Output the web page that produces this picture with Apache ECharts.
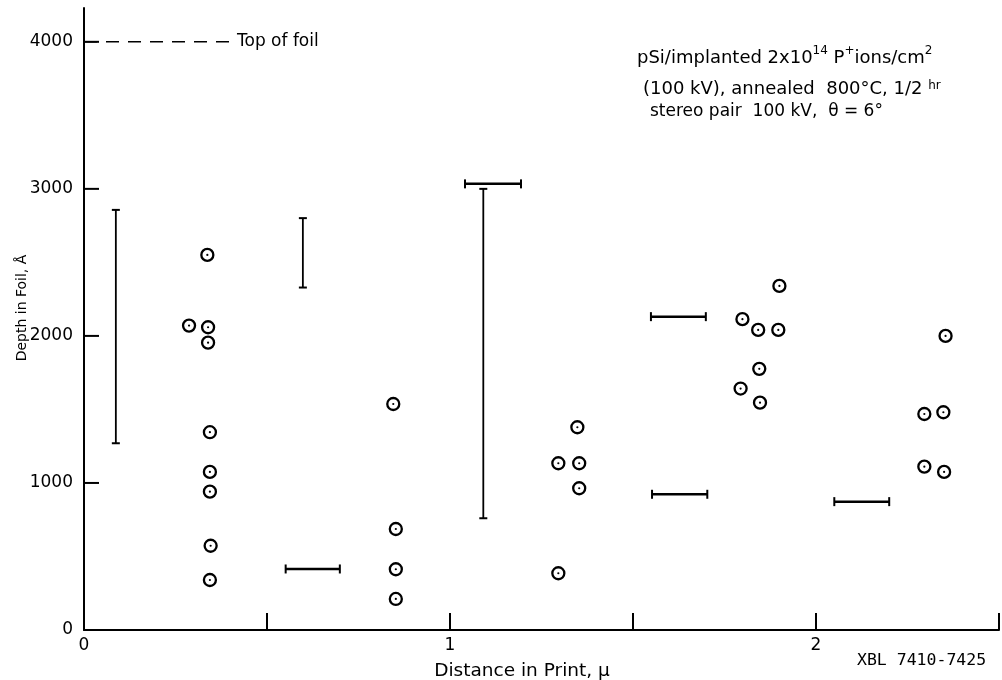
<!DOCTYPE html>
<html><head><meta charset="utf-8">
<script src="https://cdn.jsdelivr.net/npm/echarts@6/dist/echarts.min.js"></script>
<style>html,body{margin:0;padding:0;background:#fff}#c{width:1002px;height:680px}</style>
</head><body><div id="c"></div>
<script>
// Data (x in microns, y in Angstrom)
const pointsX = [0.337,0.287,0.339,0.339,0.344,0.344,0.344,0.346,0.344,
                 0.845,0.852,0.852,0.852,
                 1.348,1.296,1.353,1.353,1.296,
                 1.900,1.799,1.842,1.897,1.845,1.794,1.847,
                 2.354,2.296,2.348,2.296,2.350];
const pointsY = [2551,2070,2059,1954,1345,1075,941,573,340,
                 1537,687,413,211,
                 1379,1134,1134,964,386,
                 2340,2114,2041,2041,1776,1642,1546,
                 2000,1469,1481,1111,1075];
// vertical error bars: [x, yLow, yHigh]
const vBars = [[0.087,1270,2857],[0.598,2329,2801],[1.091,760,3000]];
// horizontal error bars: [xLeft, xRight, y]
const hBars = [[0.551,0.699,415],[1.041,1.194,3034],[1.549,1.699,2131],[1.552,1.703,923],[2.050,2.200,873]];
const topOfFoil = 4000;
const topOfFoilEndX = 0.413;
const yTicks = [0,1000,2000,3000,4000];
const xLabels = [0,1,2];

const FONT = 'DejaVu Sans';
const chart = echarts.init(document.getElementById('c'), null, {renderer:'canvas'});

const pts = pointsX.map((x,i)=>[x,pointsY[i]]);
const supRich = {
  sup:{fontSize:12,fontFamily:FONT,fill:'#000',verticalAlign:'top',lineHeight:26},
  hr:{fontSize:12,fontFamily:FONT,fill:'#000',verticalAlign:'top',lineHeight:26,padding:[4,0,0,0]}
};

chart.setOption({
  animation:false,
  backgroundColor:'#fff',
  grid:{left:84,right:3,top:8,bottom:50,containLabel:false},
  xAxis:{type:'value',min:0,max:2.5,interval:0.5,
    axisLine:{lineStyle:{color:'#000',width:2}},
    axisTick:{show:true,inside:true,length:17,lineStyle:{color:'#000',width:2}},
    splitLine:{show:false},
    axisLabel:{color:'#000',fontFamily:FONT,fontSize:17,margin:7,
      formatter:v=> xLabels.indexOf(Math.round(v*1000)/1000)>=0 ? String(v) : ''}
  },
  yAxis:{type:'value',min:0,max:4230,interval:1000,
    axisLine:{lineStyle:{color:'#000',width:2}},
    axisTick:{show:false},
    splitLine:{show:false},
    axisLabel:{color:'#000',fontFamily:FONT,fontSize:17,margin:11,
      formatter:v=> yTicks.indexOf(v)>=0 ? String(v) : ''}
  },
  series:[
    { // y ticks
      type:'custom',silent:true,data:yTicks.map(v=>[0,v]),
      renderItem:(p,api)=>{const c=api.coord([0,api.value(1)]);
        return {type:'line',shape:{x1:c[0],y1:c[1],x2:c[0]+15,y2:c[1]},style:{stroke:'#000',lineWidth:2}};}
    },
    { // top of foil dashed line
      type:'custom',silent:true,data:[[0,topOfFoilEndX,topOfFoil]],
      renderItem:(p,api)=>{const a=api.coord([api.value(0),api.value(2)]);const b=api.coord([api.value(1),api.value(2)]);
        return {type:'line',shape:{x1:a[0],y1:a[1],x2:b[0],y2:b[1]},style:{stroke:'#000',lineWidth:1.5,lineDash:[13,9]}};}
    },
    { // vertical error bars
      type:'custom',silent:true,data:vBars,
      renderItem:(p,api)=>{const a=api.coord([api.value(0),api.value(1)]);const b=api.coord([api.value(0),api.value(2)]);
        return {type:'group',children:[
          {type:'line',shape:{x1:a[0],y1:a[1],x2:b[0],y2:b[1]},style:{stroke:'#000',lineWidth:1.8}},
          {type:'line',shape:{x1:a[0]-4,y1:a[1],x2:a[0]+4,y2:a[1]},style:{stroke:'#000',lineWidth:2}},
          {type:'line',shape:{x1:b[0]-4,y1:b[1],x2:b[0]+4,y2:b[1]},style:{stroke:'#000',lineWidth:2}}
        ]};}
    },
    { // horizontal error bars
      type:'custom',silent:true,data:hBars,
      renderItem:(p,api)=>{const a=api.coord([api.value(0),api.value(2)]);const b=api.coord([api.value(1),api.value(2)]);
        return {type:'group',children:[
          {type:'line',shape:{x1:a[0],y1:a[1],x2:b[0],y2:b[1]},style:{stroke:'#000',lineWidth:2.5}},
          {type:'line',shape:{x1:a[0],y1:a[1]-4.5,x2:a[0],y2:a[1]+4.5},style:{stroke:'#000',lineWidth:2}},
          {type:'line',shape:{x1:b[0],y1:b[1]-4.5,x2:b[0],y2:b[1]+4.5},style:{stroke:'#000',lineWidth:2}}
        ]};}
    },
    { // dotted circles
      type:'custom',silent:true,data:pts,
      renderItem:(p,api)=>{const c=api.coord([api.value(0),api.value(1)]);
        return {type:'group',children:[
          {type:'circle',shape:{cx:c[0],cy:c[1],r:6},style:{fill:'#fff',stroke:'#000',lineWidth:2.3}},
          {type:'circle',shape:{cx:c[0],cy:c[1],r:1.1},style:{fill:'#000'}}
        ]};}
    }
  ],
  graphic:[
    {type:'text',left:237,top:33,style:{text:'Top of foil',fill:'#000',font:'17px "DejaVu Sans"'}},
    {type:'text',left:637,top:45,style:{
      text:'pSi/implanted 2x10{sup|14} P{sup|+}ions/cm{sup|2}',fill:'#000',font:'18px "DejaVu Sans"',lineHeight:26,
      rich:supRich}},
    {type:'text',left:643,top:76,style:{
      text:'(100 kV), annealed  800°C, 1/2 {hr|hr}',fill:'#000',font:'18px "DejaVu Sans"',lineHeight:26,
      rich:supRich}},
    {type:'text',left:650,top:103,style:{text:'stereo pair  100 kV,  θ = 6°',fill:'#000',font:'17px "DejaVu Sans"'}},
    {type:'text',x:22,y:308,rotation:Math.PI/2,style:{text:'Depth in Foil, Å',fill:'#000',font:'14px "DejaVu Sans"',align:'center',verticalAlign:'middle'}},
    {type:'text',x:522,y:671,style:{text:'Distance in Print, μ',fill:'#000',font:'18.5px "DejaVu Sans"',align:'center',verticalAlign:'middle'}},
    {type:'text',left:857,top:652,style:{text:'XBL 7410-7425',fill:'#000',font:'16.5px "DejaVu Sans Mono"'}}
  ]
});
</script></body></html>
